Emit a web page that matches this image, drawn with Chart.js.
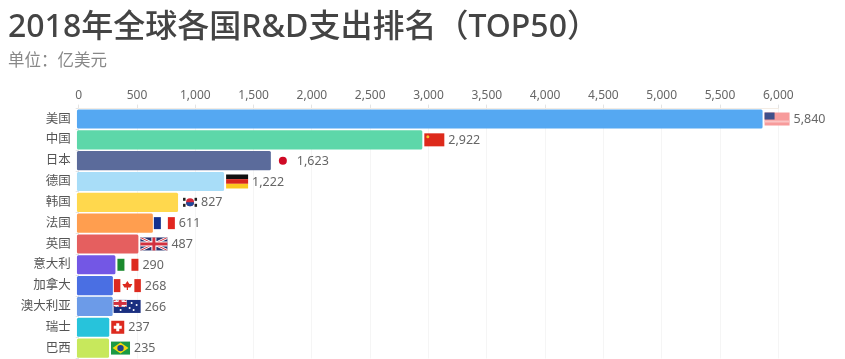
<!DOCTYPE html>
<html>
<head>
<meta charset="utf-8">
<title>2018年全球各国R&D支出排名</title>
<script src="https://cdn.jsdelivr.net/npm/chart.js@4/dist/chart.umd.min.js"></script>
<style>
  html, body { margin: 0; padding: 0; background: #fff; overflow: hidden; }
  /* taller than the window: Chart.js leaves a strip free under the plot, the last row has to reach the window's edge */
  #wrap { position: relative; width: 845px; height: 371px; }
</style>
</head>
<body>
<div id="wrap"><canvas id="chart"></canvas></div>
<script>
const countries = ['美国', '中国', '日本', '德国', '韩国', '法国', '英国', '意大利', '加拿大', '澳大利亚', '瑞士', '巴西'];
const spending = [5840, 2922, 1623, 1222, 827, 611, 487, 290, 268, 266, 237, 235];
const flagCodes = ['us', 'cn', 'jp', 'de', 'kr', 'fr', 'gb', 'it', 'ca', 'au', 'ch', 'br'];
const barColors = ['#55a8f2', '#5dd7a9', '#5b6b9b', '#a8ddf8', '#ffd84d', '#ff9e4f', '#e55f5f', '#7357e5', '#4a6fe3', '#6c9be8', '#27c3db', '#c7e85c'];

const FONT = '"Noto Sans", "Noto Sans CJK SC", sans-serif';

function rect(ctx, color, x, y, w, h) {
  ctx.fillStyle = color;
  ctx.fillRect(x, y, w, h);
}

function dot(ctx, color, x, y, r) {
  ctx.fillStyle = color;
  ctx.beginPath();
  ctx.arc(x, y, r, 0, Math.PI * 2);
  ctx.fill();
}

function unionJack(ctx, x, y, w, h) {
  rect(ctx, '#27336f', x, y, w, h);
  ctx.save();
  ctx.beginPath();
  ctx.rect(x, y, w, h);
  ctx.clip();
  ctx.strokeStyle = '#fff';
  ctx.lineWidth = 2.6;
  ctx.beginPath();
  ctx.moveTo(x, y); ctx.lineTo(x + w, y + h);
  ctx.moveTo(x + w, y); ctx.lineTo(x, y + h);
  ctx.stroke();
  ctx.strokeStyle = '#d2303f';
  ctx.lineWidth = 1;
  ctx.stroke();
  ctx.restore();
  rect(ctx, '#fff', x + w / 2 - 2.5, y, 5, h);
  rect(ctx, '#fff', x, y + h / 2 - 2.5, w, 5);
  rect(ctx, '#d2303f', x + w / 2 - 1.5, y, 3, h);
  rect(ctx, '#d2303f', x, y + h / 2 - 1.5, w, 3);
}

// each flag: width, height and how to paint it, with x,y as its top left corner
const flags = {
  us: { w: 25, h: 13, gap: 2, paint(ctx, x, y, w, h) {
    rect(ctx, '#f79b9b', x, y, w, h);
    rect(ctx, '#fbc4c4', x, y + 8, w, 2);
    rect(ctx, '#3f4f8a', x, y, 10, 7);
  } },
  cn: { w: 20, h: 13, gap: 2, paint(ctx, x, y, w, h) {
    rect(ctx, '#dd2a1b', x, y, w, h);
    dot(ctx, '#f7c52c', x + 3.5, y + 3.5, 1.5);
  } },
  jp: { w: 20, h: 13, gap: 2, paint(ctx, x, y, w, h) {
    dot(ctx, '#cf0a25', x + w / 2, y + h / 2, 4);
  } },
  de: { w: 22, h: 14, gap: 2, paint(ctx, x, y, w, h) {
    rect(ctx, '#111', x, y, w, h / 3);
    rect(ctx, '#d8261c', x, y + h / 3, w, h / 3);
    rect(ctx, '#fbc81e', x, y + 2 * h / 3, w, h / 3);
  } },
  kr: { w: 14, h: 11, gap: 5, paint(ctx, x, y, w, h) {
    const cx = x + w / 2, cy = y + h / 2;
    rect(ctx, '#222', x, y + 1, 2.5, 3);
    rect(ctx, '#222', x + w - 2.5, y + 1, 2.5, 3);
    rect(ctx, '#222', x, y + h - 4, 2.5, 3);
    rect(ctx, '#222', x + w - 2.5, y + h - 4, 2.5, 3);
    dot(ctx, '#d3273a', cx, cy, 4);
    ctx.fillStyle = '#1d4a9c';
    ctx.beginPath();
    ctx.arc(cx, cy, 4, 0, Math.PI);
    ctx.fill();
  } },
  fr: { w: 21, h: 12, gap: 1, paint(ctx, x, y, w, h) {
    rect(ctx, '#11308f', x, y, 7, h);
    rect(ctx, '#e1261f', x + 14, y, 7, h);
  } },
  gb: { w: 27, h: 13, gap: 2, paint: unionJack },
  it: { w: 21, h: 12, gap: 2, paint(ctx, x, y, w, h) {
    rect(ctx, '#1b8a2e', x, y, 7, h);
    rect(ctx, '#dd2a1f', x + 14, y, 7, h);
  } },
  ca: { w: 27, h: 13, gap: 1, paint(ctx, x, y, w, h) {
    rect(ctx, '#dd2a1f', x, y, 6.5, h);
    rect(ctx, '#dd2a1f', x + w - 6.5, y, 6.5, h);
    ctx.fillStyle = '#dd2a1f';
    const cx = x + w / 2;
    ctx.beginPath();
    ctx.moveTo(cx, y + 2);
    ctx.lineTo(cx + 2, y + 5);
    ctx.lineTo(cx + 5, y + 5);
    ctx.lineTo(cx + 3, y + 8.5);
    ctx.lineTo(cx + 0.6, y + 8.5);
    ctx.lineTo(cx + 0.6, y + 11);
    ctx.lineTo(cx - 0.6, y + 11);
    ctx.lineTo(cx - 0.6, y + 8.5);
    ctx.lineTo(cx - 3, y + 8.5);
    ctx.lineTo(cx - 5, y + 5);
    ctx.lineTo(cx - 2, y + 5);
    ctx.closePath();
    ctx.fill();
  } },
  au: { w: 27, h: 13, gap: 1, paint(ctx, x, y, w, h) {
    rect(ctx, '#1a2f80', x, y, w, h);
    unionJack(ctx, x, y, 13, 7);
    [[18, 3], [23, 5], [20, 10], [16, 8], [7, 10]].forEach(p => dot(ctx, '#fff', x + p[0], y + p[1], 1));
  } },
  ch: { w: 13, h: 13, gap: 2, paint(ctx, x, y, w, h) {
    rect(ctx, '#dd2a1f', x, y, w, h);
    rect(ctx, '#fff', x + 5, y + 2.5, 3, 8);
    rect(ctx, '#fff', x + 2.5, y + 5, 8, 3);
  } },
  br: { w: 19, h: 13, gap: 2, paint(ctx, x, y, w, h) {
    rect(ctx, '#1b9a45', x, y, w, h);
    ctx.fillStyle = '#f4d90f';
    ctx.beginPath();
    ctx.moveTo(x + w / 2, y + 1);
    ctx.lineTo(x + w - 1.5, y + h / 2);
    ctx.lineTo(x + w / 2, y + h - 1);
    ctx.lineTo(x + 1.5, y + h / 2);
    ctx.closePath();
    ctx.fill();
    dot(ctx, '#1f3f8f', x + w / 2, y + h / 2, 3.2);
  } }
};

// flag and printed number after every bar
const barEndLabels = {
  id: 'barEndLabels',
  afterDatasetsDraw(chart) {
    const { ctx } = chart;
    ctx.save();
    ctx.font = '12.5px ' + FONT;
    ctx.textBaseline = 'middle';
    ctx.textAlign = 'left';
    chart.getDatasetMeta(0).data.forEach((bar, i) => {
      const flag = flags[flagCodes[i]];
      const flagX = bar.x + flag.gap;
      flag.paint(ctx, flagX, bar.y - flag.h / 2, flag.w, flag.h);
      ctx.fillStyle = '#666';
      ctx.fillText(spending[i].toLocaleString('en-US'), flagX + flag.w + 4, bar.y + 0.5);
    });
    ctx.restore();
  }
};

new Chart(document.getElementById('chart'), {
  type: 'bar',
  plugins: [barEndLabels],
  data: {
    labels: countries,
    datasets: [{
      data: spending,
      backgroundColor: barColors,
      base: -40,
      clip: false,
      xAxisID: 'xBar',
      barPercentage: 0.92,
      categoryPercentage: 1,
      borderRadius: 1.5,
      borderSkipped: false
    }]
  },
  options: {
    indexAxis: 'y',
    responsive: true,
    maintainAspectRatio: false,
    animation: false,
    layout: { autoPadding: false, padding: { left: 8, right: 66.7, top: 0, bottom: 0 } },
    plugins: {
      legend: { display: false },
      tooltip: { enabled: false },
      title: {
        display: true,
        text: '2018年全球各国R&D支出排名（TOP50）',
        align: 'start',
        color: '#444',
        font: { family: FONT, size: 32, weight: '500' },
        padding: { top: 9, bottom: 4 }
      },
      subtitle: {
        display: true,
        text: '单位：亿美元',
        align: 'start',
        color: '#888',
        font: { family: FONT, size: 16.5 },
        padding: { top: 0, bottom: 15 }
      }
    },
    scales: {
      // the video's bars sit about 3px right of the printed ticks
      xBar: {
        display: false,
        type: 'linear',
        position: 'top',
        min: -25,
        max: 5975
      },
      x: {
        type: 'linear',
        position: 'top',
        min: 0,
        max: 6000,
        grid: { color: '#f5f5f5', tickColor: '#e4e4e4', tickLength: 4, drawTicks: true },
        border: { color: '#f3ece4' },
        ticks: {
          stepSize: 500,
          maxRotation: 0,
          autoSkip: false,
          color: '#666',
          padding: 2,
          font: { family: FONT, size: 12 },
          callback: v => v.toLocaleString('en-US')
        }
      },
      y: {
        afterFit(axis) { axis.width = 70.7; },
        grid: { drawOnChartArea: false, tickColor: '#e4e4e4', tickLength: 3 },
        border: { display: false },
        ticks: {
          autoSkip: false,
          color: '#555',
          padding: 5,
          font: { family: FONT, size: 12.5 }
        }
      }
    }
  }
});
</script>
</body>
</html>
